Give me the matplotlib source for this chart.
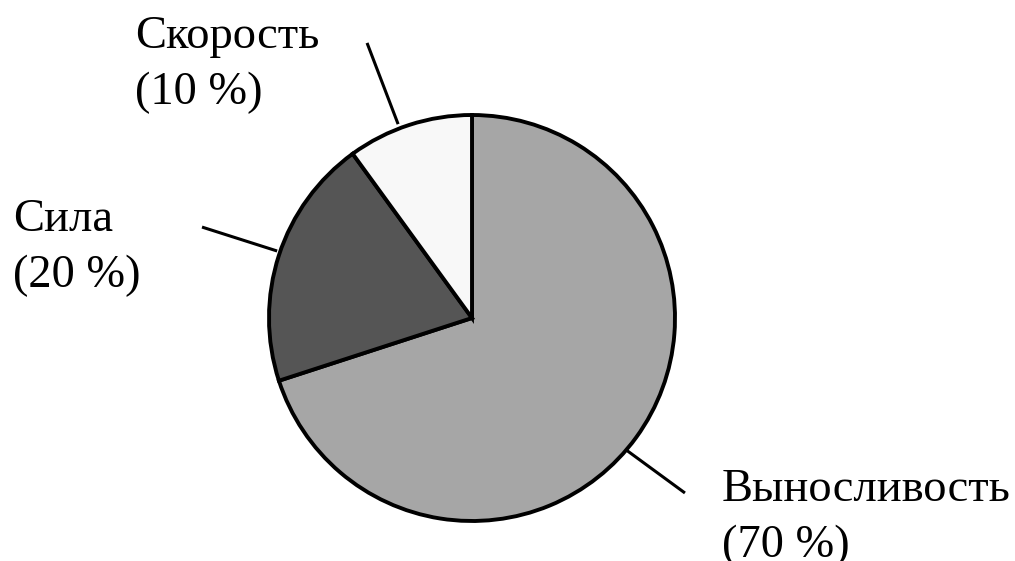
import matplotlib
matplotlib.use('Agg')
import matplotlib.pyplot as plt

# data
labels = ['Выносливость', 'Сила', 'Скорость']
shares = [70, 20, 10]
colors = ['#a6a6a6', '#555555', '#f8f8f8']

# label layout (data units, pie radius = 1); y is baseline of the last line
text_pos = [(1.232, -1.180), (-2.261, 0.150), (-1.66, 1.054)]
leader_out = [(1.049, -0.862), (-1.33, 0.448), (-0.517, 1.355)]
leader_in = [(0.739, -0.635), (-0.96, 0.33), (-0.364, 0.955)]

plt.rcParams['font.family'] = ['Liberation Serif', 'DejaVu Serif']

W, H, dpi = 1015, 561, 100
fig = plt.figure(figsize=(W / dpi, H / dpi), dpi=dpi)
ax = fig.add_axes([0, 0, 1, 1])

cx, cy, r = 472, 318, 203
ax.pie(shares, colors=colors, startangle=90, counterclock=False,
       wedgeprops=dict(edgecolor='black', linewidth=2.8))

ax.set_aspect('auto')
ax.set_xlim(-cx / r, (W - cx) / r)
ax.set_ylim(-(H - cy) / r, cy / r)
ax.axis('off')

for lab, val, tp, lo, li in zip(labels, shares, text_pos, leader_out, leader_in):
    ax.plot([lo[0], li[0]], [lo[1], li[1]], color='black', lw=2.2,
            solid_capstyle='butt', zorder=0)
    ax.text(tp[0], tp[1], f'{lab}\n({val} %)', ha='left', va='baseline',
            fontsize=33.5, linespacing=1.42, color='black')

fig.savefig('out.png', dpi=dpi)
